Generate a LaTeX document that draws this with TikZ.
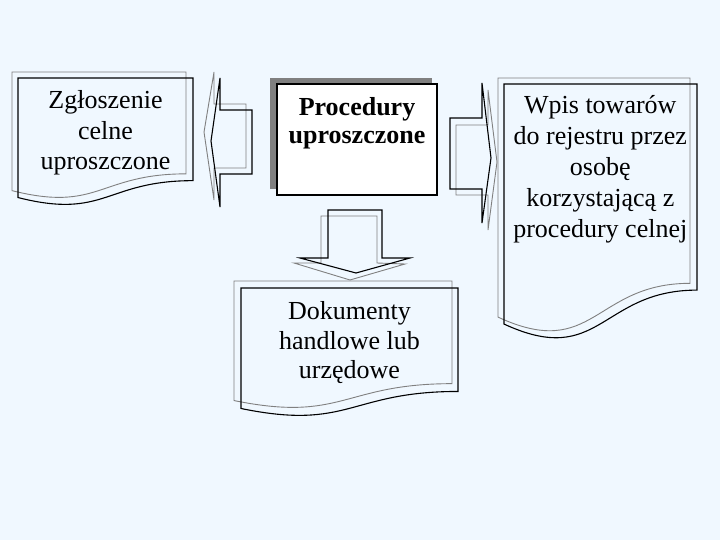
\documentclass[tikz,border=0pt]{standalone}
\usepackage{fontspec}
\setmainfont{Liberation Serif}
\definecolor{bgcol}{RGB}{240,248,255}
\definecolor{shadegray}{RGB}{128,128,128}
\tikzset{
  blk/.style={draw=black, line width=1.1pt, line join=miter},
  gry/.style={draw=shadegray, line width=0.9pt, line join=miter},
  doctext/.style={font=\fontsize{26}{30.5}\selectfont, align=center, inner sep=0pt},
  proctext/.style={font=\fontsize{26}{28}\selectfont\bfseries, align=center, inner sep=0pt},
}
% document shape: x0, y0, w, h
\newcommand{\docpath}[5]{%
  \draw[#1] (#2,#3) -- ({#2+#4},#3) -- ({#2+#4},{#3+0.802*#5})
    .. controls ({#2+0.5*#4},{#3+0.802*#5}) and ({#2+0.5*#4},{#3+1.1075*#5}) .. (#2,{#3+0.934*#5}) -- cycle;}
\begin{document}
\begin{tikzpicture}[x=1pt,y=-1pt]
\fill[bgcol] (0,0) rectangle (720,540);
\useasboundingbox (0,0) rectangle (720,540);

% Document 1
\docpath{gry}{12}{72}{174}{127}
\docpath{blk}{18}{78}{175}{128}
\node[doctext] (zgl) at (105.5,133) {Zgłoszenie\\celne\\uproszczone};

% Procedury box
\fill[shadegray] (270,78) rectangle (432,189);
\draw[black, line width=1.1pt, fill=white] (277,84) rectangle (437,195);
\node[proctext] (proc) at (357,123) {Procedury\\uproszczone};

% Document 3
\docpath{gry}{498}{78}{192}{256}
\docpath{blk}{504}{84}{193}{257}
\node[doctext, font=\fontsize{26}{31}\selectfont] (wpis) at (600.3,169) {Wpis towarów\\do rejestru przez\\osobę\\korzystającą z\\procedury celnej};

% Document 2
\docpath{gry}{234}{281}{218}{128}
\docpath{blk}{241}{288}{217}{129}
\node[doctext, font=\fontsize{26}{29.5}\selectfont] (dok) at (349.5,343) {Dokumenty\\handlowe lub\\urzędowe};

% Arrow 1 (left)
\draw[gry] (246,104) -- (214,104) -- (214,72) -- (204,132) -- (214,200) -- (214,168) -- (246,168) -- cycle;
\draw[blk] (252,110) -- (220,110) -- (220,78) -- (211,141) -- (220,207) -- (220,174) -- (252,174) -- cycle;

% Arrow 2 (right)
\draw[gry] (456,125) -- (488,125) -- (488,90) -- (497,162) -- (488,230) -- (488,195) -- (456,195) -- cycle;
\draw[blk] (450,118) -- (482,118) -- (482,83) -- (491,158) -- (482,223) -- (482,189) -- (450,189) -- cycle;

% Arrow 3 (down)
\draw[gry] (321,263) -- (321,216) -- (377,216) -- (377,263) -- (405,264) -- (350,280) -- (294,263) -- cycle;
\draw[blk] (328,258) -- (328,210) -- (382,210) -- (382,258) -- (410,258) -- (356,273) -- (300,258) -- cycle;
\end{tikzpicture}
\end{document}
